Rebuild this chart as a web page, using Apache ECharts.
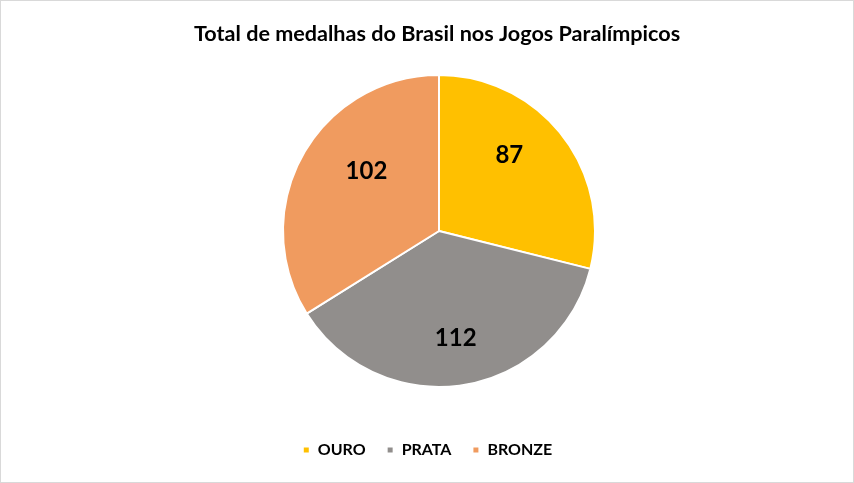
<!DOCTYPE html>
<html><head><meta charset="utf-8">
<script src="https://cdn.jsdelivr.net/npm/echarts@6/dist/echarts.min.js"></script>
<style>
html,body{margin:0;padding:0;background:#fff;}
#c{position:absolute;left:0;top:0;width:852px;height:481px;border:1px solid #D9D9D9;}
</style></head>
<body><div id="c"></div>
<script>
const title = 'Total de medalhas do Brasil nos Jogos Paralímpicos';
const categories = ['OURO', 'PRATA', 'BRONZE'];
const values = [87, 112, 102];
const colors = ['#FFC000', '#918E8C', '#F09B5F'];
const labelOffsets = [[-14, -10], [0, 2], [21, -8]];

const chart = echarts.init(document.getElementById('c'));
const data = categories.map((c, i) => ({name: c, value: values[i], itemStyle: {color: colors[i]}}));
const fontFam = 'Lato, "Open Sans", sans-serif';
chart.setOption({
  animation: false,
  title: {text: title, left: 193, top: 22, padding: 0, textStyle: {fontFamily: fontFam, fontSize: 21.6, fontWeight: 'bold', color: '#000'}},
  legend: {bottom: 19, left: 'center', itemWidth: 7, itemHeight: 7, itemGap: 20, icon: 'rect',
    textStyle: {fontFamily: fontFam, fontSize: 16, fontWeight: 'bold', color: '#000', padding: [0,0,0,3]},
    data: categories},
  series: [
    {type: 'pie', center: [438, 230], radius: [0, 156], startAngle: 90, clockwise: true,
     label: {show: false}, labelLine: {show: false},
     itemStyle: {borderColor: '#fff', borderWidth: 2},
     emphasis: {disabled: true}, data: data},
    {type: 'pie', center: [438, 230], radius: [52, 156], startAngle: 90, clockwise: true, silent: true,
     legendHoverLink: false,
     label: {show: true, position: 'inside', formatter: '{c}', fontFamily: fontFam, fontSize: 24, fontWeight: 'bold', color: '#000'},
     labelLine: {show: false},
     itemStyle: {color: 'rgba(0,0,0,0)'},
     emphasis: {disabled: true},
     data: categories.map((c, i) => ({name: c + '_l', value: values[i], label: {offset: labelOffsets[i]}}))}
  ]
});
</script></body></html>
